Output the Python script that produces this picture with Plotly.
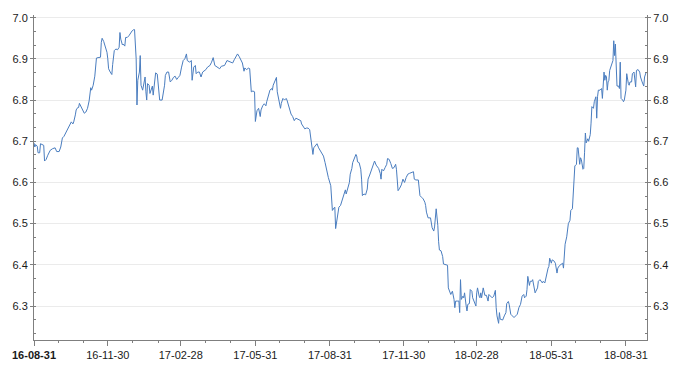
import pandas as pd
import plotly.graph_objects as go

start_date = "2016-08-31"
day_offsets = [0,1,2,4,5,7,8,12,13,15,17,19,20,23,26,28,31,33,35,37,40,42,44,46,48,49,51,52,54,55,56,58,60,62,64,66,68,70,71,73,75,76,77,79,82,83,84,86,88,90,91,92,94,96,97,99,101,103,105,106,107,109,110,112,113,115,117,119,121,123,124,
126,127,128,130,131,132,134,136,137,138,139,140,142,143,144,146,147,149,150,152,153,155,158,161,162,164,166,168,170,172,174,176,178,180,182,184,186,188,189,192,194,195,197,199,200,202,204,206,208,210,212,214,217,219,221,223,226,229,231,233,235,238,240,243,245,247,249,251,253,255,257,
259,260,262,265,266,267,268,270,272,273,274,275,277,279,280,282,284,286,287,289,291,293,294,295,297,298,299,300,301,303,304,305,307,309,311,312,314,316,317,319,321,323,325,327,329,330,332,334,336,338,340,342,344,345,348,349,351,353,355,357,359,361,363,
366,367,368,370,371,372,373,374,375,376,378,380,383,384,385,387,389,390,392,393,395,397,398,399,401,403,404,405,407,409,411,412,414,416,418,420,422,425,427,428,429,431,433,435,436,438,440,442,444,446,447,448,449,451,453,455,457,459,461,463,465,468,469,471,474,476,478,480,482,483,484,486,489,490,491,493,494,496,
498,499,500,502,504,505,509,510,511,513,514,516,518,519,520,522,524,525,526,527,529,530,531,533,534,535,537,538,540,541,543,545,546,547,549,550,551,552,554,555,556,558,560,561,563,565,567,569,570,571,573,574,575,578,580,582,583,585,586,588,590,592,594,596,597,598,600,601,602,604,605,607,608,609,611,612,614,615,616,618,619,621,622,624,
627,628,630,632,634,635,636,638,639,641,643,645,646,648,650,652,653,654,655,657,658,659,661,662,664,665,666,667,669,670,671,672,673,674,675,677,678,679,680,681,683,684,686,687,688,690,691,693,694,695,696,698,700,701,702,703,704,705,706,707,708,709,710,713,714,715,716,717,718,719,721,722,723,724,726,727,728,730,731,732,733,734,735,737,738,740,742,743,745,747,748,750,752,753,754,755]

rate = [6.696,6.686,6.692,6.688,6.672,6.672,6.694,6.690,6.652,6.656,6.666,6.672,6.678,6.682,6.684,6.675,6.675,6.686,6.708,6.712,6.724,6.734,6.742,6.747,6.742,6.747,6.764,6.776,6.782,6.782,6.792,6.784,6.776,6.768,6.771,6.780,6.798,6.830,6.824,6.836,6.858,6.886,6.902,6.903,6.904,6.940,6.950,6.942,6.928,6.916,6.900,6.876,6.868,6.862,6.886,6.920,6.924,6.922,6.928,6.964,6.948,6.934,6.936,6.931,6.952,6.952,6.956,6.964,6.968,6.971,6.971,
6.900,6.788,6.848,6.868,6.908,6.836,6.824,6.852,6.856,6.820,6.800,6.840,6.836,6.816,6.824,6.834,6.812,6.852,6.866,6.863,6.840,6.800,6.800,6.836,6.860,6.868,6.868,6.844,6.848,6.855,6.858,6.850,6.855,6.860,6.880,6.896,6.900,6.912,6.896,6.892,6.896,6.848,6.880,6.884,6.864,6.868,6.868,6.856,6.868,6.870,6.874,6.880,6.884,6.892,6.903,6.884,6.880,6.876,6.882,6.884,6.884,6.896,6.894,6.892,6.890,6.898,6.904,6.912,6.906,6.896,6.890,
6.870,6.878,6.874,6.878,6.876,6.840,6.820,6.822,6.820,6.748,6.760,6.774,6.780,6.760,6.776,6.786,6.791,6.786,6.796,6.812,6.824,6.828,6.824,6.836,6.844,6.852,6.855,6.820,6.808,6.794,6.780,6.792,6.804,6.800,6.804,6.800,6.786,6.776,6.766,6.760,6.750,6.756,6.754,6.754,6.750,6.742,6.736,6.730,6.732,6.732,6.728,6.696,6.668,6.684,6.690,6.694,6.684,6.678,6.672,6.664,6.648,6.628,6.612,
6.592,6.556,6.532,6.538,6.540,6.488,6.500,6.520,6.528,6.540,6.544,6.556,6.572,6.582,6.572,6.588,6.600,6.620,6.634,6.648,6.656,6.668,6.664,6.650,6.648,6.632,6.608,6.568,6.572,6.570,6.584,6.608,6.618,6.628,6.638,6.652,6.642,6.634,6.622,6.608,6.632,6.628,6.636,6.644,6.658,6.656,6.646,6.634,6.636,6.644,6.632,6.608,6.580,6.586,6.594,6.608,6.600,6.612,6.620,6.622,6.624,6.626,6.608,6.606,6.606,6.568,6.564,6.560,6.552,6.544,6.528,6.514,6.514,6.500,6.490,6.482,6.492,6.536,
6.496,6.456,6.436,6.434,6.420,6.402,6.400,6.399,6.344,6.332,6.328,6.336,6.316,6.296,6.312,6.312,6.312,6.284,6.364,6.316,6.324,6.320,6.332,6.300,6.288,6.304,6.306,6.340,6.336,6.320,6.312,6.300,6.332,6.344,6.324,6.320,6.332,6.320,6.344,6.328,6.326,6.326,6.312,6.328,6.324,6.320,6.324,6.338,6.296,6.276,6.258,6.284,6.268,6.266,6.276,6.284,6.306,6.311,6.304,6.280,6.276,6.272,6.276,6.280,6.288,6.296,6.304,6.312,6.324,6.328,6.320,6.324,6.340,6.372,6.350,6.360,6.360,6.364,6.352,6.332,6.336,6.344,6.360,6.364,
6.356,6.360,6.356,6.376,6.392,6.396,6.416,6.404,6.412,6.410,6.404,6.380,6.392,6.398,6.400,6.404,6.392,6.436,6.450,6.468,6.480,6.500,6.508,6.532,6.536,6.576,6.620,6.640,6.644,6.684,6.684,6.664,6.644,6.660,6.656,6.632,6.634,6.672,6.720,6.696,6.706,6.700,6.716,6.744,6.784,6.780,6.796,6.808,6.756,6.808,6.824,6.824,6.828,6.804,6.844,6.868,6.848,6.860,6.856,6.824,6.844,6.848,6.872,6.892,6.896,6.944,6.908,6.936,6.868,6.834,6.834,6.828,6.892,6.804,6.800,6.796,6.800,6.824,6.864,6.844,6.840,6.836,6.844,6.844,6.864,6.868,6.832,6.872,6.874,6.868,6.856,6.844,6.834,6.856,6.864,6.868]

end_date = "2018-09-26"
major_ticks = ["2016-08-31", "2016-11-30", "2017-02-28", "2017-05-31", "2017-08-31",
               "2017-11-30", "2018-02-28", "2018-05-31", "2018-08-31"]
major_labels = ["<b>16-08-31</b>", "16-11-30", "17-02-28", "17-05-31", "17-08-31",
                "17-11-30", "18-02-28", "18-05-31", "18-08-31"]
minor_ticks = ["2016-09-30", "2016-10-31", "2016-12-31", "2017-01-31", "2017-03-31", "2017-04-30",
               "2017-06-30", "2017-07-31", "2017-09-30", "2017-10-31", "2017-12-31", "2018-01-31",
               "2018-03-31", "2018-04-30", "2018-06-30", "2018-07-31"]
y_ticks = [6.3, 6.4, 6.5, 6.6, 6.7, 6.8, 6.9, 7.0]
y_range = [6.2175, 7.0065]

dates = pd.Timestamp(start_date) + pd.to_timedelta(day_offsets, unit="D")

fig = go.Figure()
fig.add_trace(go.Scatter(x=dates, y=rate, mode="lines",
                         line=dict(color="#4a7dbf", width=1), hoverinfo="x+y",
                         showlegend=False))
fig.add_trace(go.Scatter(x=dates, y=rate, mode="lines", yaxis="y2",
                         line=dict(color="rgba(0,0,0,0)", width=1), hoverinfo="skip",
                         showlegend=False))

font = dict(family="Liberation Sans, Arial, sans-serif", size=11, color="#1a1a1a")
axis_color = "#7f7f7f"

yaxis_common = dict(
    range=y_range, tickmode="array", tickvals=y_ticks,
    ticktext=[f"{v:.1f}" for v in y_ticks],
    showline=True, linecolor=axis_color, linewidth=1,
    ticks="outside", ticklen=3, tickcolor=axis_color,
    showgrid=True, gridcolor="#ebebeb", gridwidth=1, zeroline=False,
    minor=dict(ticks="inside", ticklen=2, tickcolor=axis_color, tickmode="linear",
               tick0=6.3, dtick=0.1 / 3, showgrid=False),
    tickfont=font, fixedrange=True,
)

fig.update_layout(
    width=682, height=373,
    margin=dict(l=30, r=35, t=14, b=30),
    paper_bgcolor="white", plot_bgcolor="white",
    font=font,
    xaxis=dict(
        range=[start_date, end_date], tickmode="array", tickvals=major_ticks,
        ticktext=major_labels, showline=True, linecolor=axis_color, linewidth=1,
        ticks="outside", ticklen=5, tickcolor=axis_color, showgrid=False,
        zeroline=False, tickfont=font,
        minor=dict(ticks="outside", ticklen=2, tickcolor=axis_color,
                   tickmode="array", tickvals=minor_ticks, showgrid=False),
    ),
    yaxis=dict(side="left", **yaxis_common),
    yaxis2=dict(side="right", overlaying="y", matches="y", anchor="x", **yaxis_common),
)

fig.write_html("out.html")
